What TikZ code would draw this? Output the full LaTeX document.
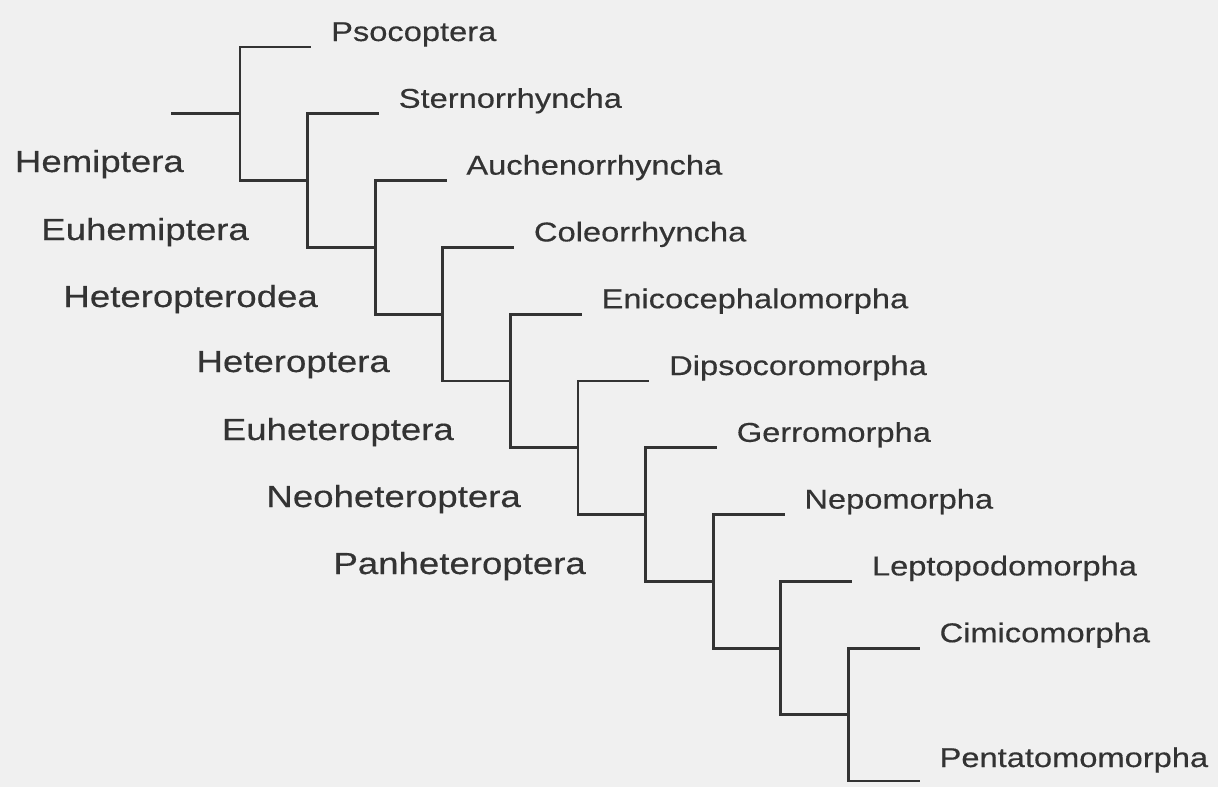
\documentclass[tikz,border=0pt]{standalone}
\usepackage{fontspec}
\newfontfamily\labfont[FakeStretch=1.2,FakeBold=0.4]{Liberation Sans}
\definecolor{paper}{HTML}{F0F0F0}
\definecolor{ink}{HTML}{333333}
\begin{document}
\begin{tikzpicture}[x=1pt,y=-1pt,
  branch/.style={draw=ink,line width=2.8pt,line cap=rect},
  leaflabel/.style={anchor=base west,inner sep=0pt,text=ink,font=\labfont\fontsize{27.2}{30}\selectfont},
  cladelabel/.style={anchor=base east,inner sep=0pt,text=ink,font=\labfont\fontsize{30.5}{33}\selectfont}]
\fill[paper] (0,0) rectangle (1218,787);
\useasboundingbox (0,0) rectangle (1218,787);
% internal nodes (midpoints of vertical bars)
\foreach \k in {0,...,8}{
  \coordinate (n\k) at ({240+67.6*\k},{47+66.8*(\k+1)});
}
\coordinate (n9) at (848.4,714.6);
% leaf ends
\foreach \k in {0,...,9}{
  \coordinate (e\k) at ({310+67.6*\k},{47+66.8*\k});
}
\coordinate (e10) at (918.4,781);
\coordinate (root) at (172,113.8);
% connectors
\draw[branch] (root) -- (n0);
\foreach \k in {0,...,9}{
  \draw[branch] (n\k) |- (e\k);
}
\foreach \k [evaluate=\k as \j using int(\k+1)] in {0,...,8}{
  \draw[branch] (n\k) |- (n\j);
}
\draw[branch] (n9) |- (e10);
% leaf labels
\foreach \k/\t in {0/Psocoptera,1/Sternorrhyncha,2/Auchenorrhyncha,3/Coleorrhyncha,4/Enicocephalomorpha,5/Dipsocoromorpha,6/Gerromorpha,7/Nepomorpha,8/Leptopodomorpha,9/Cimicomorpha}{
  \node[leaflabel] (t\k) at ({331+67.6*\k},{41+66.8*\k}) {\t};
}
\node[leaflabel] (t10) at (939.4,767) {Pentatomomorpha};
% clade labels
\node[cladelabel] (c0) at (184,172) {Hemiptera};
\node[cladelabel] (c1) at (249,240) {Euhemiptera};
\node[cladelabel] (c2) at (318,307) {Heteropterodea};
\node[cladelabel] (c3) at (390,372) {Heteroptera};
\node[cladelabel] (c4) at (454,440) {Euheteroptera};
\node[cladelabel] (c5) at (521,507) {Neoheteroptera};
\node[cladelabel] (c6) at (586,574) {Panheteroptera};
\end{tikzpicture}
\end{document}
